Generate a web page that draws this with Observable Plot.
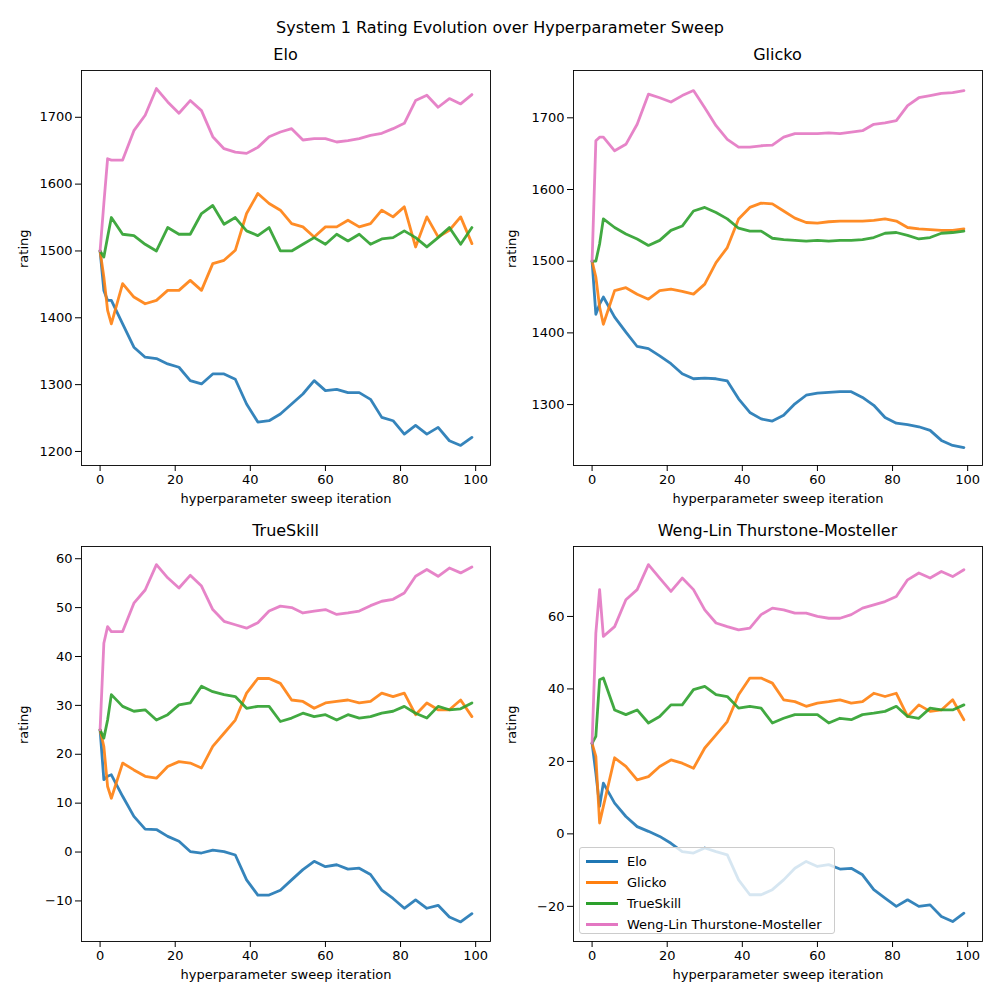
<!DOCTYPE html>
<html>
<head>
<meta charset="utf-8">
<script src="https://cdn.jsdelivr.net/npm/d3@7"></script>
<script src="https://cdn.jsdelivr.net/npm/@observablehq/plot@0.6"></script>
<style>
  body { margin: 0; background: #fff; font-family: "DejaVu Sans", sans-serif; }
  #wrap { position: relative; width: 1000px; height: 1000px; }
  .ttl { position: absolute; font-size: 16px; text-align: center; color: #000; }
  #legend { position: absolute; left: 579px; top: 847px; width: 256px; height: 87px;
    border: 1px solid #ccc; border-radius: 3px; background: rgba(255,255,255,0.8);
    font-size: 13px; box-sizing: border-box; padding: 3px 6px; }
  #legend div { height: 21px; display: flex; align-items: center; }
  #legend span.sw { display: inline-block; width: 32px; height: 3px; margin-right: 9px; }
</style>
</head>
<body>
<div id="wrap"></div>
<script>
const xs = [0, 1, 2, 3, 6, 9, 12, 15, 18, 21, 24, 27, 30, 33, 36, 39, 42, 45, 48, 51, 54, 57, 60, 63, 66, 69, 72, 75, 78, 81, 84, 87, 90, 93, 96, 99];
const systems = ["Elo", "Glicko", "TrueSkill", "Weng-Lin Thurstone-Mosteller"];
const colors = ["#1f77b4", "#ff7f0e", "#2ca02c", "#e377c2"];

// Elo panel
const eloElo = [1500,1441,1426,1426,1391,1356,1341,1339,1331,1326,1306,1301,1316,1316,1308,1271,1244,1246,1256,1271,1286,1306,1291,1293,1288,1288,1278,1251,1246,1226,1239,1226,1236,1216,1209,1221];
const eloGlicko = [1500,1461,1411,1391,1451,1431,1421,1426,1441,1441,1456,1441,1481,1486,1501,1556,1586,1571,1561,1541,1536,1521,1536,1536,1546,1536,1541,1561,1551,1566,1506,1551,1521,1531,1551,1511];
const eloTrue = [1500,1491,1521,1550,1525,1523,1510,1500,1535,1525,1525,1556,1568,1540,1550,1530,1523,1535,1500,1500,1510,1520,1510,1525,1515,1525,1510,1518,1520,1530,1520,1506,1520,1535,1510,1535];
const eloWL = [1500,1571,1638,1636,1636,1680,1703,1743,1723,1706,1725,1710,1671,1653,1648,1646,1655,1671,1678,1683,1666,1668,1668,1663,1665,1668,1673,1676,1683,1691,1725,1733,1715,1728,1720,1734];

// Glicko panel
const glkElo = [1500,1426,1440,1450,1422,1401,1381,1378,1368,1357,1343,1336,1337,1336,1333,1308,1289,1280,1277,1285,1301,1313,1316,1317,1318,1318,1310,1299,1282,1274,1272,1269,1264,1250,1243,1240];
const glkGlicko = [1500,1478,1436,1412,1459,1463,1454,1447,1459,1461,1458,1454,1468,1498,1519,1559,1575,1581,1580,1570,1560,1554,1553,1555,1556,1556,1556,1557,1559,1556,1547,1545,1544,1543,1543,1545];
const glkTrue = [1500,1500,1524,1559,1547,1538,1531,1522,1529,1543,1549,1570,1575,1568,1559,1546,1542,1542,1532,1530,1529,1528,1529,1528,1529,1529,1530,1533,1539,1540,1536,1531,1533,1539,1540,1542];
const glkWL = [1500,1668,1673,1673,1654,1663,1691,1733,1728,1722,1731,1738,1714,1689,1670,1659,1659,1661,1662,1673,1678,1678,1678,1679,1678,1680,1682,1691,1693,1696,1717,1728,1731,1734,1735,1738];

// TrueSkill panel
const tsElo = [25,14.8,15.5,15.8,11.4,7.3,4.7,4.6,3.2,2.2,0.1,-0.2,0.4,0.1,-0.6,-5.7,-8.8,-8.8,-7.8,-5.7,-3.6,-1.9,-3.0,-2.6,-3.5,-3.3,-4.6,-7.8,-9.5,-11.5,-9.8,-11.5,-10.9,-13.3,-14.3,-12.6];
const tsGlicko = [25,21.6,13.4,11.0,18.2,16.8,15.5,15.1,17.5,18.5,18.2,17.2,21.6,24.3,27.0,32.5,35.5,35.5,34.5,31.1,30.8,29.4,30.5,30.8,31.1,30.5,30.8,32.5,31.8,32.5,28.1,30.5,29.1,29.1,31.1,27.7];
const tsTrue = [25,23.3,27.0,32.2,29.8,28.8,29.1,27.0,28.1,30.1,30.5,33.9,32.8,32.2,31.8,29.4,29.8,29.8,26.7,27.4,28.4,27.7,28.1,27.0,28.1,27.4,27.7,28.4,28.8,29.8,28.4,27.4,29.8,29.1,29.3,30.5];
const tsWL = [25,42.7,46.1,45.1,45.1,50.9,53.6,58.8,56.1,54.0,56.6,54.4,49.6,47.2,46.5,45.8,46.9,49.3,50.3,50.0,48.9,49.3,49.6,48.6,48.9,49.3,50.4,51.3,51.7,53.0,56.4,57.8,56.4,58.1,57.1,58.3];

// Weng-Lin panel
const wlElo = [25,16.8,7.6,14,8.5,4.8,2.0,0.7,-0.7,-2.6,-4.9,-5.3,-3.9,-4.9,-5.8,-12.7,-16.8,-16.8,-15.4,-12.7,-9.5,-7.6,-9,-8.5,-9.7,-9.5,-11.3,-15.4,-17.7,-20,-18.2,-20,-19.6,-22.8,-24.2,-21.9];
const wlGlicko = [25,21.4,3.0,7.6,21,18.6,14.9,15.8,18.6,20.4,19.5,18.1,23.7,27.3,31,38.4,43,43,41.6,37,36.5,35.2,36.1,36.5,37,36.1,36.5,38.8,37.9,38.8,32.4,35.6,33.8,34.2,37,31.5];
const wlTrue = [25,26.9,42.5,43,34.2,32.9,34.2,30.6,32.4,35.6,35.6,39.8,40.7,38.4,37.9,34.7,35.2,34.7,30.6,31.9,32.9,32.9,32.9,30.6,31.9,31.5,32.9,33.3,33.8,35.2,32.4,31.9,34.7,34.2,34.2,35.6];
const wlWL = [25,55.4,67.4,54.5,57.2,64.6,67.4,74.3,70.6,66.9,70.6,67.4,61.8,58.2,57.2,56.3,56.8,60.5,62.3,61.8,60.9,60.9,60,59.5,59.5,60.5,62.3,63.2,64.1,65.5,70.1,72,70.6,72.4,71,72.9];

const panels = [
  {title: "Elo", series: [eloElo, eloGlicko, eloTrue, eloWL], y: [1179, 1770], ticks: [1200,1300,1400,1500,1600,1700], left: 0, top: 60},
  {title: "Glicko", series: [glkElo, glkGlicko, glkTrue, glkWL], y: [1215, 1766], ticks: [1300,1400,1500,1600,1700], left: 492, top: 60},
  {title: "TrueSkill", series: [tsElo, tsGlicko, tsTrue, tsWL], y: [-18.3, 62.5], ticks: [-10,0,10,20,30,40,50,60], left: 0, top: 536},
  {title: "Weng-Lin Thurstone-Mosteller", series: [wlElo, wlGlicko, wlTrue, wlWL], y: [-29.7, 79.3], ticks: [-20,0,20,40,60], left: 492, top: 536}
];

const wrap = document.getElementById("wrap");
const sup = document.createElement("div");
sup.className = "ttl";
sup.style.cssText = "left:0;width:1000px;top:18px;";
sup.textContent = "System 1 Rating Evolution over Hyperparameter Sweep";
wrap.append(sup);

const fmt = d => d < 0 ? "\u2212" + Math.abs(d) : String(d);

for (const p of panels) {
  const rows = [];
  p.series.forEach((vals, k) => vals.forEach((v, i) => rows.push({x: xs[i], y: v, s: systems[k]})));
  const chart = Plot.plot({
    width: 500, height: 465,
    marginLeft: 81, marginRight: 10, marginTop: 10, marginBottom: 60,
    style: {fontFamily: "DejaVu Sans", fontSize: "13px", color: "#000"},
    x: {domain: [-4.95, 103.95], ticks: [0,20,40,60,80,100], tickFormat: fmt, label: null},
    y: {domain: p.y, ticks: p.ticks, tickFormat: fmt, label: null},
    color: {domain: systems, range: colors},
    marks: [
      Plot.line(rows, {x: "x", y: "y", z: "s", stroke: "s", strokeWidth: 2.8, strokeOpacity: 0.9}),
      Plot.frame({stroke: "#000", strokeWidth: 0.9}),
      Plot.text(["hyperparameter sweep iteration"], {frameAnchor: "bottom", dy: 37, text: d => d, fontSize: 13}),
      Plot.text(["rating"], {frameAnchor: "left", dx: p.left ? -62 : -58, rotate: -90, text: d => d, fontSize: 13})
    ]
  });
  chart.style.position = "absolute";
  chart.style.left = p.left + "px";
  chart.style.top = p.top + "px";
  chart.style.overflow = "visible";
  wrap.append(chart);
  const t = document.createElement("div");
  t.className = "ttl";
  t.style.cssText = `left:${p.left + 81}px;width:409px;top:${p.top - 15}px;`;
  t.textContent = p.title;
  wrap.append(t);
}

const leg = document.createElement("div");
leg.id = "legend";
systems.forEach((s, k) => {
  const row = document.createElement("div");
  row.innerHTML = `<span class="sw" style="background:${colors[k]}"></span>${s}`;
  leg.append(row);
});
wrap.append(leg);
</script>
</body>
</html>
